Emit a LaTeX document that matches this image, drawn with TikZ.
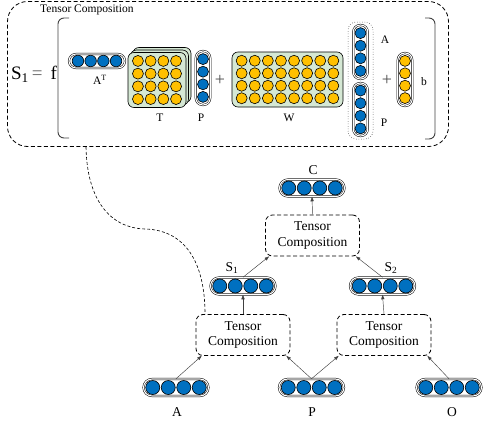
\documentclass[tikz,border=0pt]{standalone}
\usepackage{fontspec}
\setmainfont{Liberation Serif}
\usetikzlibrary{arrows.meta}
\definecolor{vblue}{HTML}{0070C0}
\definecolor{vorange}{HTML}{FFC000}
\definecolor{mgreen}{HTML}{D5E8D4}
\begin{document}
\begin{tikzpicture}[x=1pt,y=-1pt,
  bdot/.style={circle,draw=black,line width=0.6pt,fill=vblue,inner sep=0pt,minimum size=#1},
  odot/.style={circle,draw=black,line width=0.6pt,fill=vorange,inner sep=0pt,minimum size=#1},
  vcap/.style={rectangle,draw=black,line width=0.5pt,double=white,double distance=1.1pt,inner sep=0pt},
  mat/.style={rectangle,draw=black,line width=0.6pt,fill=mgreen,rounded corners=6pt,inner sep=0pt},
  tcbox/.style={rectangle,draw=black,line width=0.8pt,dash pattern=on 4pt off 2.5pt,rounded corners=7pt,
    minimum width=94pt,minimum height=41pt,align=center,font=\fontsize{13.5}{15.5}\selectfont,inner sep=0pt},
  lbl/.style={font=\fontsize{13.5}{15}\selectfont,inner sep=0pt},
  slbl/.style={font=\fontsize{11.5}{12}\selectfont,inner sep=0pt},
  arr/.style={draw=black!75,line width=0.45pt,-{Triangle[length=4.5pt,width=3.2pt]}},
  brk/.style={draw=black!75,line width=0.9pt,rounded corners=6pt},
]
\useasboundingbox (0,0) rectangle (484,423);

% ---------- top box ----------
\node[rectangle,draw=black,line width=0.8pt,dash pattern=on 4pt off 2.5pt,rounded corners=20pt,
  minimum width=441pt,minimum height=145pt,inner sep=0pt] (big) at (228,74) {};
\node[font=\fontsize{11.5}{12}\selectfont,anchor=west,inner sep=0pt] (bigt) at (40,9.5) {Tensor Composition};
\node[font=\fontsize{19}{20}\selectfont,inner sep=0pt] (sf) at (34,74) {S\textsubscript{1}\,\textcolor{black!60}{=}\, f};

% brackets
\draw[brk] (69,18) -- (58,18) -- (58,138) -- (69,138);
\draw[brk] (425,18) -- (435,18) -- (435,139) -- (425,139);

% A^T
\node[vcap,minimum width=56pt,minimum height=14pt,rounded corners=7pt] (AT) at (97,61) {};
\foreach \k in {-1.5,-0.5,0.5,1.5} \node[bdot=11.5pt] at ([xshift=\k*12.7pt]AT.center) {};
\node[slbl] (ATl) at (100,80) {A\textsuperscript{T}};

% T stack
\node[mat,minimum width=58pt,minimum height=55pt] (T3) at (162,75) {};
\node[mat,minimum width=58pt,minimum height=55pt] (T2) at (159.5,77.5) {};
\node[mat,minimum width=58pt,minimum height=55pt] (T) at (157,80) {};
\foreach \i in {-1.5,-0.5,0.5,1.5}
  \foreach \j in {-1.5,-0.5,0.5,1.5}
    \node[odot=11pt] at ([xshift=\i*12.7pt,yshift=\j*12.7pt]T.center) {};
\node[slbl] (Tl) at (160,118) {T};

% P vertical
\node[vcap,minimum width=14.5pt,minimum height=54pt,rounded corners=7pt] (Pv) at (203,78) {};
\foreach \k in {-1.5,-0.5,0.5,1.5} \node[bdot=11pt] at ([yshift=\k*12.6pt]Pv.center) {};
\node[slbl] (Pvl) at (201,118) {P};

\node[font=\fontsize{18}{18}\selectfont,text=black!70,inner sep=0pt] (plus1) at (220,80) {+};

% W
\node[mat,minimum width=111pt,minimum height=55pt] (W) at (287.5,79.5) {};
\foreach \i in {-3.5,-2.5,-1.5,-0.5,0.5,1.5,2.5,3.5}
  \foreach \j in {-1.5,-0.5,0.5,1.5}
    \node[odot=11pt] at ([xshift=\i*13.1pt,yshift=\j*12.5pt]W.center) {};
\node[slbl] (Wl) at (289,118) {W};

% A/P stacked
\node[rectangle,draw=black,line width=0.5pt,dotted,rounded corners=8pt,minimum width=25pt,minimum height=117pt,inner sep=0pt] (AP) at (360.5,80.5) {};
\node[vcap,minimum width=14.5pt,minimum height=54pt,rounded corners=7pt] (Av) at (360.5,52) {};
\foreach \k in {-1.5,-0.5,0.5,1.5} \node[bdot=11pt] at ([yshift=\k*12.6pt]Av.center) {};
\node[vcap,minimum width=14.5pt,minimum height=53pt,rounded corners=7pt] (Pv2) at (360.5,109.5) {};
\foreach \k in {-1.5,-0.5,0.5,1.5} \node[bdot=11pt] at ([yshift=\k*12.6pt]Pv2.center) {};
\node[slbl] (Avl) at (385,40) {A};
\node[slbl] (Pv2l) at (384,123) {P};

\node[font=\fontsize{18}{18}\selectfont,text=black!70,inner sep=0pt] (plus2) at (387,80) {+};

% b
\node[vcap,minimum width=14.5pt,minimum height=53pt,rounded corners=7pt] (bv) at (405,79.5) {};
\foreach \k in {-1.5,-0.5,0.5,1.5} \node[odot=11pt] at ([yshift=\k*12.4pt]bv.center) {};
\node[slbl] (bl) at (424,82) {b};

% ---------- tree ----------
\node[tcbox] (tcT) at (312.5,235.5) {Tensor\\Composition};
\node[tcbox] (tcL) at (243,335) {Tensor\\Composition};
\node[tcbox] (tcR) at (384,335) {Tensor\\Composition};

\foreach \n/\x/\y in {C/312/188, S1/243/286, S2/382.5/286, A/176/387.5, P/311.5/387.5, O/449/387.5}{
  \node[vcap,minimum width=65pt,minimum height=17pt,rounded corners=8.5pt] (\n) at (\x,\y) {};
  \foreach \k in {-1.5,-0.5,0.5,1.5} \node[bdot=14pt] at ([xshift=\k*15.5pt]\n.center) {};
}
\node[lbl] (Cl) at (313,170) {C};
\node[lbl] (S1l) at (232,268) {S\textsubscript{1}};
\node[lbl] (S2l) at (391,268) {S\textsubscript{2}};
\node[lbl] (Al) at (177,412) {A};
\node[lbl] (Pl) at (312,412) {P};
\node[lbl] (Ol) at (452,412) {O};

\draw[arr] (tcT.north) -- (C.south);
\draw[arr] (S1.north) -- ([xshift=4pt]tcT.south west);
\draw[arr] (S2.north) -- ([xshift=-4pt]tcT.south east);
\draw[arr] (tcL.north) -- (S1.south);
\draw[arr] (tcR.north) -- (S2.south);
\draw[arr] (A.north) -- ([xshift=6pt]tcL.south west);
\draw[arr] (P.north) -- ([xshift=-4pt]tcL.south east);
\draw[arr] (P.north) -- ([xshift=2pt]tcR.south west);
\draw[arr] (O.north) -- ([xshift=-4pt]tcR.south east);

% dashed link
\coordinate (cs) at (86,147);
\coordinate (ce) at (205,314);
\draw[black,line width=0.6pt,dash pattern=on 3pt off 2pt] (cs) .. controls (87,200) and (110,228) .. (145,229) .. controls (185,230) and (205,262) .. (ce);
\end{tikzpicture}
\end{document}
